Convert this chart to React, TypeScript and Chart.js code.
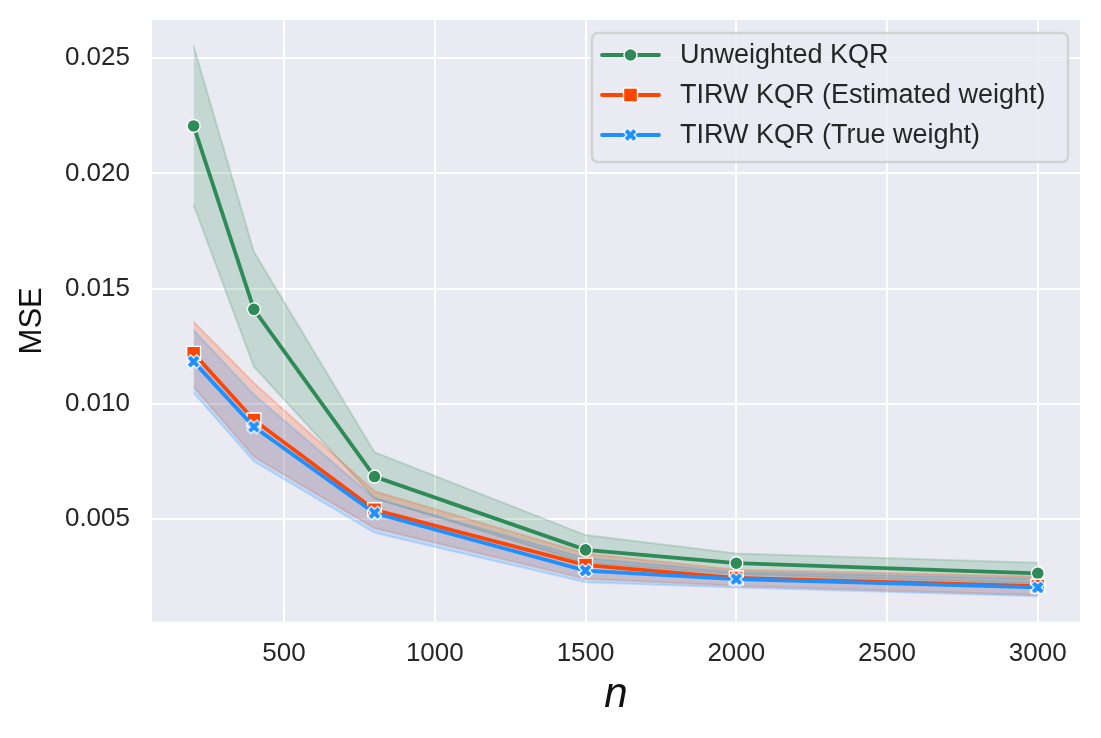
import React, { useRef, useEffect } from 'react';
import { Chart, registerables } from 'chart.js';

Chart.register(...registerables);

// sample sizes and mean MSE with the band limits
const nValues = [200, 400, 800, 1500, 2000, 3000];

const unweighted = [0.02206, 0.0141, 0.00684, 0.00366, 0.00308, 0.00264];
const unweightedLow = [0.01863, 0.01161, 0.0059, 0.0031, 0.0026, 0.0022];
const unweightedHigh = [0.02553, 0.0166, 0.0079, 0.0043, 0.0035, 0.0031];

const estimated = [0.01219, 0.0093, 0.0054, 0.003, 0.00244, 0.00208];
const estimatedLow = [0.01074, 0.0077, 0.0046, 0.0024, 0.0021, 0.0017];
const estimatedHigh = [0.01356, 0.0109, 0.0062, 0.0035, 0.0028, 0.0025];

const trueWeight = [0.01183, 0.009, 0.00526, 0.00276, 0.00239, 0.00203];
const trueLow = [0.01047, 0.0075, 0.0044, 0.00225, 0.00203, 0.00165];
const trueHigh = [0.0132, 0.0104, 0.0059, 0.0033, 0.0027, 0.0024];

const seriesLabels = ['Unweighted KQR', 'TIRW KQR (Estimated weight)', 'TIRW KQR (True weight)'];
const xTicks = [500, 1000, 1500, 2000, 2500, 3000];
const yTicks = [0.005, 0.01, 0.015, 0.02, 0.025];

const GREEN = '#2e8b57';
const ORANGE = '#ff4500';
const BLUE = '#1e90ff';
const FONT = '"Liberation Sans", Arial, sans-serif';

const pts = (ys: number[]) => nValues.map((x, i) => ({ x, y: ys[i] }));

const rgba = (hex: string, a: number) => {
  const n = parseInt(hex.slice(1), 16);
  return `rgba(${(n >> 16) & 255},${(n >> 8) & 255},${n & 255},${a})`;
};

// filled "X" marker like matplotlib's, with a white edge
function makeXMarker(size: number): HTMLCanvasElement {
  const c = document.createElement('canvas');
  c.width = size;
  c.height = size;
  const ctx = c.getContext('2d')!;
  const s = size / 2 - 1.5;
  const w = s / 2.6;
  ctx.translate(size / 2, size / 2);
  ctx.rotate(Math.PI / 4);
  ctx.beginPath();
  ctx.moveTo(-w, -s);
  ctx.lineTo(w, -s);
  ctx.lineTo(w, -w);
  ctx.lineTo(s, -w);
  ctx.lineTo(s, w);
  ctx.lineTo(w, w);
  ctx.lineTo(w, s);
  ctx.lineTo(-w, s);
  ctx.lineTo(-w, w);
  ctx.lineTo(-s, w);
  ctx.lineTo(-s, -w);
  ctx.lineTo(-w, -w);
  ctx.closePath();
  ctx.fillStyle = BLUE;
  ctx.fill();
  ctx.strokeStyle = '#ffffff';
  ctx.lineWidth = 1.3;
  ctx.stroke();
  return c;
}

const App: React.FC = () => {
  const chartRef = useRef<HTMLCanvasElement | null>(null);

  useEffect(() => {
    document.body.style.margin = '0';
    if (!chartRef.current) return;
    const ctx = chartRef.current.getContext('2d')!;
    const xMarker = makeXMarker(17);

    const lineDs = (label: string, data: number[], color: string, style: any, radius: number, order: number) => ({
      label,
      data: pts(data),
      borderColor: color,
      backgroundColor: color,
      borderWidth: 3.8,
      pointStyle: style,
      pointRadius: radius,
      pointBackgroundColor: color,
      pointBorderColor: '#ffffff',
      pointBorderWidth: 1.4,
      tension: 0,
      fill: false,
      order,
    });

    const bandDs = (data: number[], color: string, fill: any, order: number) => ({
      label: '',
      data: pts(data),
      borderColor: rgba(color, 0.2),
      backgroundColor: rgba(color, 0.2),
      borderWidth: 2,
      pointRadius: 0,
      tension: 0,
      fill,
      order,
    });

    const backgroundPlugin = {
      id: 'axesBackground',
      beforeDraw(chart: any) {
        const { ctx: c, chartArea: a } = chart;
        c.save();
        c.fillStyle = '#eaeaf2';
        c.fillRect(a.left, a.top, a.right - a.left, a.bottom - a.top);
        c.restore();
      },
    };

    const legendPlugin = {
      id: 'boxLegend',
      afterDatasetsDraw(chart: any) {
        const { ctx: c, chartArea: a } = chart;
        const right = a.right - 12;
        const top = a.top + 13;
        const width = 476;
        const height = 129;
        const left = right - width;
        c.save();
        c.beginPath();
        c.roundRect(left, top, width, height, 6);
        c.fillStyle = 'rgba(234,234,242,0.8)';
        c.fill();
        c.strokeStyle = 'rgba(204,204,204,0.8)';
        c.lineWidth = 2.5;
        c.stroke();

        const colors = [GREEN, ORANGE, BLUE];
        seriesLabels.forEach((label, i) => {
          const y = top + 22 + i * 40;
          const x0 = left + 10;
          const x1 = left + 67;
          const mx = (x0 + x1) / 2;
          c.beginPath();
          c.moveTo(x0, y);
          c.lineTo(x1, y);
          c.strokeStyle = colors[i];
          c.lineWidth = 3.8;
          c.lineCap = 'round';
          c.stroke();
          c.lineCap = 'butt';
          if (i === 0) {
            c.beginPath();
            c.arc(mx, y, 6.5, 0, Math.PI * 2);
            c.fillStyle = GREEN;
            c.fill();
            c.strokeStyle = '#ffffff';
            c.lineWidth = 1.4;
            c.stroke();
          } else if (i === 1) {
            c.fillStyle = ORANGE;
            c.fillRect(mx - 7, y - 7, 14, 14);
            c.strokeStyle = '#ffffff';
            c.lineWidth = 1.4;
            c.strokeRect(mx - 7, y - 7, 14, 14);
          } else {
            c.drawImage(xMarker, mx - xMarker.width / 2, y - xMarker.height / 2);
          }
          c.fillStyle = '#262626';
          c.font = `27px ${FONT}`;
          c.textBaseline = 'middle';
          c.textAlign = 'left';
          c.fillText(label, left + 88, y + 1);
        });
        c.restore();
      },
    };

    // bands sit below every line, as in matplotlib's z-order
    const chart = new Chart(ctx, {
      type: 'line',
      data: {
        datasets: [
          lineDs(seriesLabels[0], unweighted, GREEN, 'circle', 6.5, 3),
          lineDs(seriesLabels[1], estimated, ORANGE, 'rect', 9.8, 2),
          lineDs(seriesLabels[2], trueWeight, BLUE, xMarker, 8, 1),
          bandDs(unweightedHigh, GREEN, 4, 6),
          bandDs(unweightedLow, GREEN, false, 6),
          bandDs(estimatedHigh, ORANGE, 6, 5),
          bandDs(estimatedLow, ORANGE, false, 5),
          bandDs(trueHigh, BLUE, 8, 4),
          bandDs(trueLow, BLUE, false, 4),
        ] as any,
      },
      options: {
        responsive: false,
        maintainAspectRatio: false,
        animation: false,
        layout: { padding: { left: 0, right: 21, top: 20, bottom: 0 } },
        plugins: {
          legend: { display: false },
          tooltip: { enabled: false },
        },
        scales: {
          x: {
            type: 'linear',
            min: 62,
            max: 3140,
            afterBuildTicks: (scale: any) => {
              scale.ticks = xTicks.map((v) => ({ value: v }));
            },
            afterFit: (scale: any) => {
              scale.height = 116.3;
              scale.paddingLeft = 0;
              scale.paddingRight = 0;
            },
            grid: { color: '#ffffff', lineWidth: 2, drawTicks: false },
            border: { display: false },
            ticks: {
              padding: 17,
              color: '#262626',
              font: { family: FONT, size: 26 },
              maxRotation: 0,
              callback: (v: any) => String(v),
            },
            title: {
              display: true,
              text: 'n',
              color: '#111111',
              font: { family: FONT, size: 42, style: 'italic', lineHeight: 1 },
              padding: { top: 0, bottom: 22 },
            },
          },
          y: {
            type: 'linear',
            min: 0.00054,
            max: 0.02666,
            afterBuildTicks: (scale: any) => {
              scale.ticks = yTicks.map((v) => ({ value: v }));
            },
            afterFit: (scale: any) => {
              scale.width = 152;
              scale.paddingTop = 0;
              scale.paddingBottom = 0;
            },
            grid: { color: '#ffffff', lineWidth: 2, drawTicks: false },
            border: { display: false },
            ticks: {
              padding: 22,
              color: '#262626',
              font: { family: FONT, size: 26 },
              callback: (v: any) => Number(v).toFixed(3),
            },
            title: {
              display: true,
              text: 'MSE',
              color: '#111111',
              font: { family: FONT, size: 31, lineHeight: 1 },
              padding: { top: 16.5, bottom: 0 },
            },
          },
        },
      },
      plugins: [backgroundPlugin, legendPlugin],
    });

    return () => {
      chart.destroy();
    };
  }, []);

  return (
    <div style={{ width: 1101, height: 738 }}>
      <canvas ref={chartRef} width={1101} height={738} style={{ display: 'block' }}></canvas>
    </div>
  );
};

export default App;
